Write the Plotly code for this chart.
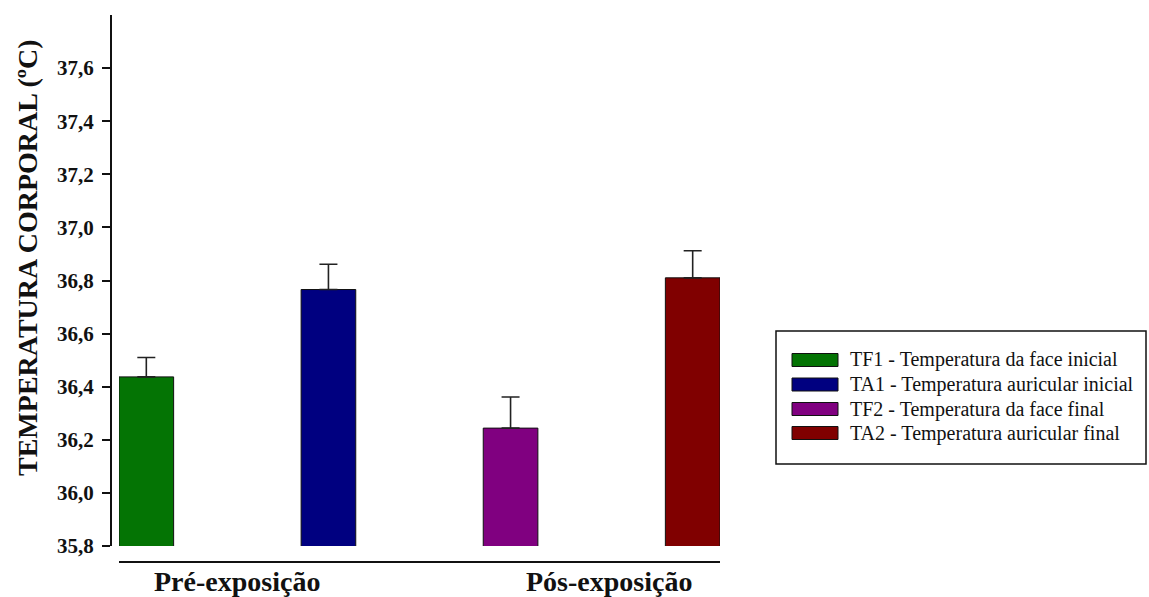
import plotly.graph_objects as go

# Body temperature (ºC): mean and standard error per measurement
groups = ["Pré-exposição", "Pós-exposição"]
group_x = [0.5, 2.54]
series = [
    "TF1 - Temperatura da face inicial",
    "TA1 - Temperatura auricular inicial",
    "TF2 - Temperatura da face final",
    "TA2 - Temperatura auricular final",
]
means = [36.437, 36.766, 36.244, 36.810]
errors = [0.073, 0.095, 0.117, 0.102]
colors = ["#047404", "#000080", "#800080", "#800000"]
y_ticks = [35.8, 36.0, 36.2, 36.4, 36.6, 36.8, 37.0, 37.2, 37.4, 37.6]
y_title = "TEMPERATURA CORPORAL (ºC)"

W, H = 1149, 597
SERIF = "Liberation Serif"
INK = "#111111"


def px(x):
    return x / W


def py(y):
    return 1 - y / H


fig = go.Figure()
for i, (name, m, e, c) in enumerate(zip(series, means, errors, colors)):
    fig.add_trace(go.Bar(
        x=[i], y=[m], name=name, width=0.3,
        marker=dict(color=c, line=dict(color=INK, width=1)),
        error_y=dict(type="data", array=[e], arrayminus=[0], symmetric=False,
                     color="#222222", thickness=1.6, width=9),
        showlegend=False,
    ))

# legend box with wide swatches
shapes = [dict(type="rect", xref="paper", yref="paper",
               x0=px(776), x1=px(1146), y0=py(331), y1=py(464),
               line=dict(color=INK, width=1.5), fillcolor="white")]
annotations = []
row_y = [360, 384.5, 409, 433]
for name, c, ry in zip(series, colors, row_y):
    shapes.append(dict(type="rect", xref="paper", yref="paper",
                       x0=px(792), x1=px(838), y0=py(ry - 6.5), y1=py(ry + 6.5),
                       line=dict(color=INK, width=1), fillcolor=c))
    annotations.append(dict(text=name, xref="paper", yref="paper",
                            x=px(848), y=py(ry), xanchor="left", yanchor="middle",
                            showarrow=False,
                            font=dict(family=SERIF, size=20, color=INK)))

# group labels under the baseline
for g, gx in zip(groups, group_x):
    annotations.append(dict(text="<b>%s</b>" % g, xref="x", yref="paper",
                            x=gx, y=py(581), xanchor="center", yanchor="middle",
                            showarrow=False,
                            font=dict(family=SERIF, size=28, color=INK)))

annotations.append(dict(text="<b>%s</b>" % y_title, xref="paper", yref="paper",
                        x=px(27), y=py(258), textangle=-90,
                        xanchor="center", yanchor="middle", showarrow=False,
                        font=dict(family=SERIF, size=28, color=INK)))

fig.update_layout(
    width=W, height=H,
    margin=dict(l=0, r=0, t=0, b=0),
    paper_bgcolor="white", plot_bgcolor="white",
    barmode="overlay",
    separators=",.",
    shapes=shapes,
    annotations=annotations,
    xaxis=dict(
        domain=[px(119), px(720)], range=[-0.15, 3.15],
        anchor="free", position=py(562),
        showline=True, linecolor=INK, linewidth=2,
        showgrid=False, zeroline=False, ticks="", showticklabels=False,
        automargin=False,
    ),
    yaxis=dict(
        domain=[py(546), py(15)], range=[35.8, 37.8],
        anchor="free", position=px(111),
        showline=True, linecolor=INK, linewidth=2,
        showgrid=False, zeroline=False,
        ticks="outside", ticklen=8, tickwidth=2, tickcolor=INK,
        ticklabelstandoff=4,
        tickvals=y_ticks, tickformat=".1f",
        tickfont=dict(family=SERIF, size=21, color=INK, weight="bold"),
        automargin=False,
    ),
)

fig.write_html("out.html")
